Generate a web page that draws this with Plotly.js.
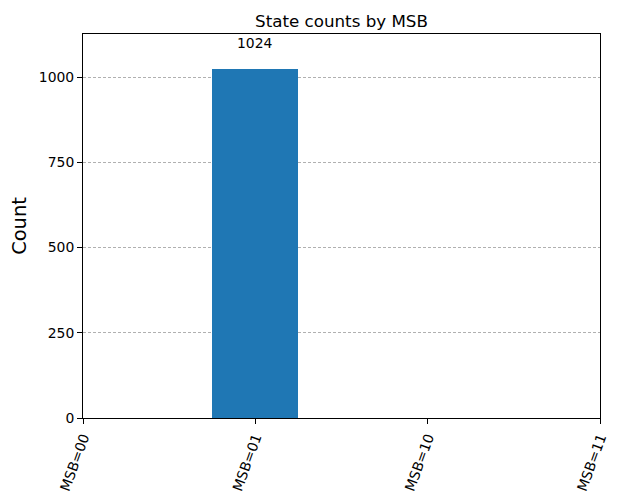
<!DOCTYPE html>
<html>
<head>
<meta charset="utf-8">
<script src="https://cdn.plot.ly/plotly-3.0.1.min.js"></script>
<style>html,body{margin:0;padding:0;background:#fff;}#chart{width:623px;height:502px;}</style>
</head>
<body>
<div id="chart"></div>
<script>
const categories = ["MSB=00", "MSB=01", "MSB=10", "MSB=11"];
const counts = [0, 1024, 0, 0];
const yTicks = [0, 250, 500, 750, 1000];

const font = "DejaVu Sans, sans-serif";

const annotations = [];
categories.forEach((c, i) => {
  if (counts[i] > 0) {
    annotations.push({
      x: c, y: counts[i], xref: "x", yref: "y",
      text: String(counts[i]), showarrow: false,
      yanchor: "bottom", yshift: 16,
      font: {family: font, size: 13.9, color: "#000"}
    });
  }
});

const trace = {
  type: "bar",
  x: categories,
  y: counts,
  width: 0.5,
  marker: {color: "#1f77b4", line: {width: 0}},
  hoverinfo: "x+y"
};

const layout = {
  width: 623, height: 502,
  margin: {l: 83, r: 23.3, t: 33.7, b: 84, pad: 0},
  paper_bgcolor: "#fff", plot_bgcolor: "#fff",
  showlegend: false,
  title: {text: "State counts by MSB", font: {family: font, size: 16.7, color: "#000"},
          x: 0.5, xanchor: "center", xref: "paper", y: 1, yref: "paper", yanchor: "bottom", pad: {b: 7}},
  xaxis: {
    type: "category", range: [0, 3],
    tickangle: -70, ticks: "outside", ticklen: 5, tickwidth: 1, tickcolor: "#000",
    showline: true, linecolor: "#000", linewidth: 1, mirror: true,
    showgrid: false, zeroline: false,
    tickfont: {family: font, size: 13.9, color: "#000"}
  },
  yaxis: {
    range: [0, 1126.4],
    tickvals: yTicks, ticktext: yTicks.map(String),
    ticks: "outside", ticklen: 5, tickwidth: 1, tickcolor: "#000",
    showline: true, linecolor: "#000", linewidth: 1, mirror: true,
    showgrid: true, gridcolor: "#b0b0b0", gridwidth: 1, griddash: "3px,2px",
    zeroline: false,
    tickfont: {family: font, size: 13.9, color: "#000"},
    title: {text: "Count", font: {family: font, size: 19.4, color: "#000"}, standoff: 7}
  },
  annotations: annotations,
  bargap: 0
};

Plotly.newPlot("chart", [trace], layout, {displayModeBar: false, staticPlot: true});
</script>
</body>
</html>
